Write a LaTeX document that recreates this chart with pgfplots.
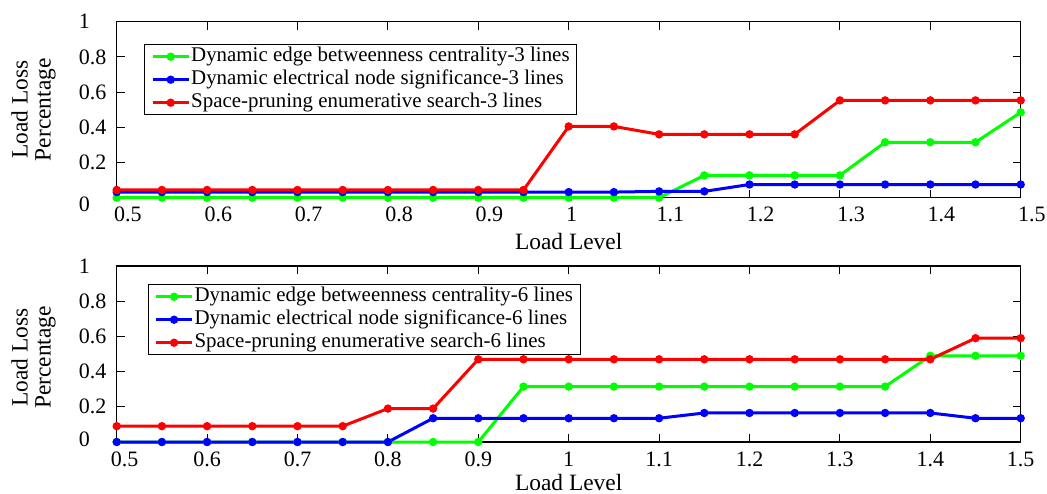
\documentclass[border=0pt]{standalone}
\usepackage{fontspec}
\setmainfont{Liberation Serif}
\usepackage{pgfplots}
\usepackage{pgfplotstable}
\pgfplotsset{compat=1.18}

\definecolor{ebcgreen}{RGB}{0,255,0}
\definecolor{ensblue}{RGB}{0,0,255}
\definecolor{spered}{RGB}{255,0,0}

% Load loss percentage versus load level, 3 lines removed
\pgfplotstableread{
x     ebc    ens    spe
0.50  0.000  0.032  0.044
0.55  0.000  0.032  0.044
0.60  0.000  0.032  0.044
0.65  0.000  0.032  0.044
0.70  0.000  0.032  0.044
0.75  0.000  0.032  0.044
0.80  0.000  0.032  0.044
0.85  0.000  0.032  0.044
0.90  0.000  0.032  0.044
0.95  0.000  0.032  0.044
1.00  0.000  0.032  0.405
1.05  0.000  0.032  0.405
1.10  0.000  0.036  0.360
1.15  0.127  0.036  0.360
1.20  0.127  0.075  0.360
1.25  0.127  0.075  0.360
1.30  0.127  0.075  0.553
1.35  0.315  0.075  0.553
1.40  0.315  0.075  0.553
1.45  0.315  0.075  0.553
1.50  0.485  0.075  0.553
}\threelines

% Load loss percentage versus load level, 6 lines removed
\pgfplotstableread{
x     ebc    ens    spe
0.50  0.000  0.000  0.090
0.55  0.000  0.000  0.090
0.60  0.000  0.000  0.090
0.65  0.000  0.000  0.090
0.70  0.000  0.000  0.090
0.75  0.000  0.000  0.090
0.80  0.000  0.000  0.190
0.85  0.000  0.135  0.190
0.90  0.000  0.135  0.470
0.95  0.315  0.135  0.470
1.00  0.315  0.135  0.470
1.05  0.315  0.135  0.470
1.10  0.315  0.135  0.470
1.15  0.315  0.165  0.470
1.20  0.315  0.165  0.470
1.25  0.315  0.165  0.470
1.30  0.315  0.165  0.470
1.35  0.315  0.165  0.470
1.40  0.490  0.165  0.470
1.45  0.490  0.135  0.590
1.50  0.490  0.135  0.590
}\sixlines

\pgfplotsset{
  panel/.style={
    scale only axis, width=452pt, height=88pt,
    xmin=0.5, xmax=1.5, ymin=0, ymax=1,
    xtick={0.5,0.6,0.7,0.8,0.9,1,1.1,1.2,1.3,1.4,1.5},
    tick align=inside, major tick length=4pt,
    axis line style={line width=0.6pt},
    every tick/.style={black, line width=0.5pt},
    clip=false,
    /pgf/number format/assume math mode=true,
    tick label style={font=\fontsize{11}{12}\selectfont, inner sep=0pt},
    yticklabel style={anchor=west, xshift=-19.1pt},
    xlabel={Load Level},
    xlabel style={at={(axis description cs:0.5,0)}, anchor=base,
      inner sep=0pt, font=\fontsize{11.7}{14}\selectfont},
    ylabel={Load Loss\\Percentage},
    ylabel style={align=center, anchor=center, inner sep=0pt,
      font=\fontsize{11.7}{11.4}\selectfont},
    legend cell align=left,
    legend image code/.code={\draw[#1, mark repeat=2, mark phase=2]
      plot coordinates {(0pt,0pt) (9pt,0pt) (18pt,0pt)};},
    legend style={anchor=north west, draw=black, line width=0.5pt, fill=white,
      font=\fontsize{10.45}{11}\selectfont,
      inner xsep=3.2pt, inner ysep=0.7pt, row sep=0.7pt,
      nodes={inner sep=0.5pt, text height=7.4pt, text depth=2.4pt},
      /tikz/every even column/.append style={column sep=2pt}},
    every axis plot/.append style={line width=1.5pt, mark=*, mark size=1.3pt},
  },
}

\begin{document}
\begin{tikzpicture}
\useasboundingbox (-58.35pt,-235.65pt) rectangle (465.15pt,10.85pt);

\begin{axis}[panel, at={(0pt,0pt)}, anchor=north west,
  ytick={0.2,0.4,0.6,0.8,1}, yticklabels={0.2,0.4,0.6,0.8,1},
  extra y ticks={0}, extra y tick labels={0},
  extra y tick style={yticklabel style={yshift=-3.5pt}},
  xticklabels={0.5,0.6,0.7,0.8,0.9,1,1.1,1.2,1.3,1.4,1.5},
  xticklabel style={anchor=base west, xshift=-1.5pt, yshift=-12pt},
  xlabel style={yshift=-25.8pt},
  ylabel style={at={(axis description cs:-0.092,0.5)}},
  legend style={at={(axis description cs:0,1)}, xshift=13.8pt, yshift=-11.15pt}]
\addplot[color=ebcgreen] table[x=x, y=ebc] {\threelines};
\addlegendentry{Dynamic edge betweenness centrality-3 lines}
\addplot[color=ensblue] table[x=x, y=ens] {\threelines};
\addlegendentry{Dynamic electrical node significance-3 lines}
\addplot[color=spered] table[x=x, y=spe] {\threelines};
\addlegendentry{Space-pruning enumerative search-3 lines}
\end{axis}

\begin{axis}[panel, at={(0pt,-122.15pt)}, anchor=north west,
  ytick={0.2,0.4,0.6,0.8,1}, yticklabels={0.2,0.4,0.6,0.8,1},
  extra y ticks={0}, extra y tick labels={0},
  extra y tick style={yticklabel style={yshift=1.5pt}},
  xticklabels={\hspace*{8pt}0.5,0.6,0.7,0.8,0.9,1,1.1,1.2,1.3,1.4,1.5},
  xticklabel style={anchor=base, yshift=-12pt},
  xlabel style={yshift=-24pt},
  ylabel style={at={(axis description cs:-0.092,0.48)}},
  legend style={at={(axis description cs:0,1)}, xshift=15.5pt, yshift=-9pt}]
\addplot[color=ebcgreen] table[x=x, y=ebc] {\sixlines};
\addlegendentry{Dynamic edge betweenness centrality-6 lines}
\addplot[color=ensblue] table[x=x, y=ens] {\sixlines};
\addlegendentry{Dynamic electrical node significance-6 lines}
\addplot[color=spered] table[x=x, y=spe] {\sixlines};
\addlegendentry{Space-pruning enumerative search-6 lines}
\end{axis}
\end{tikzpicture}
\end{document}
